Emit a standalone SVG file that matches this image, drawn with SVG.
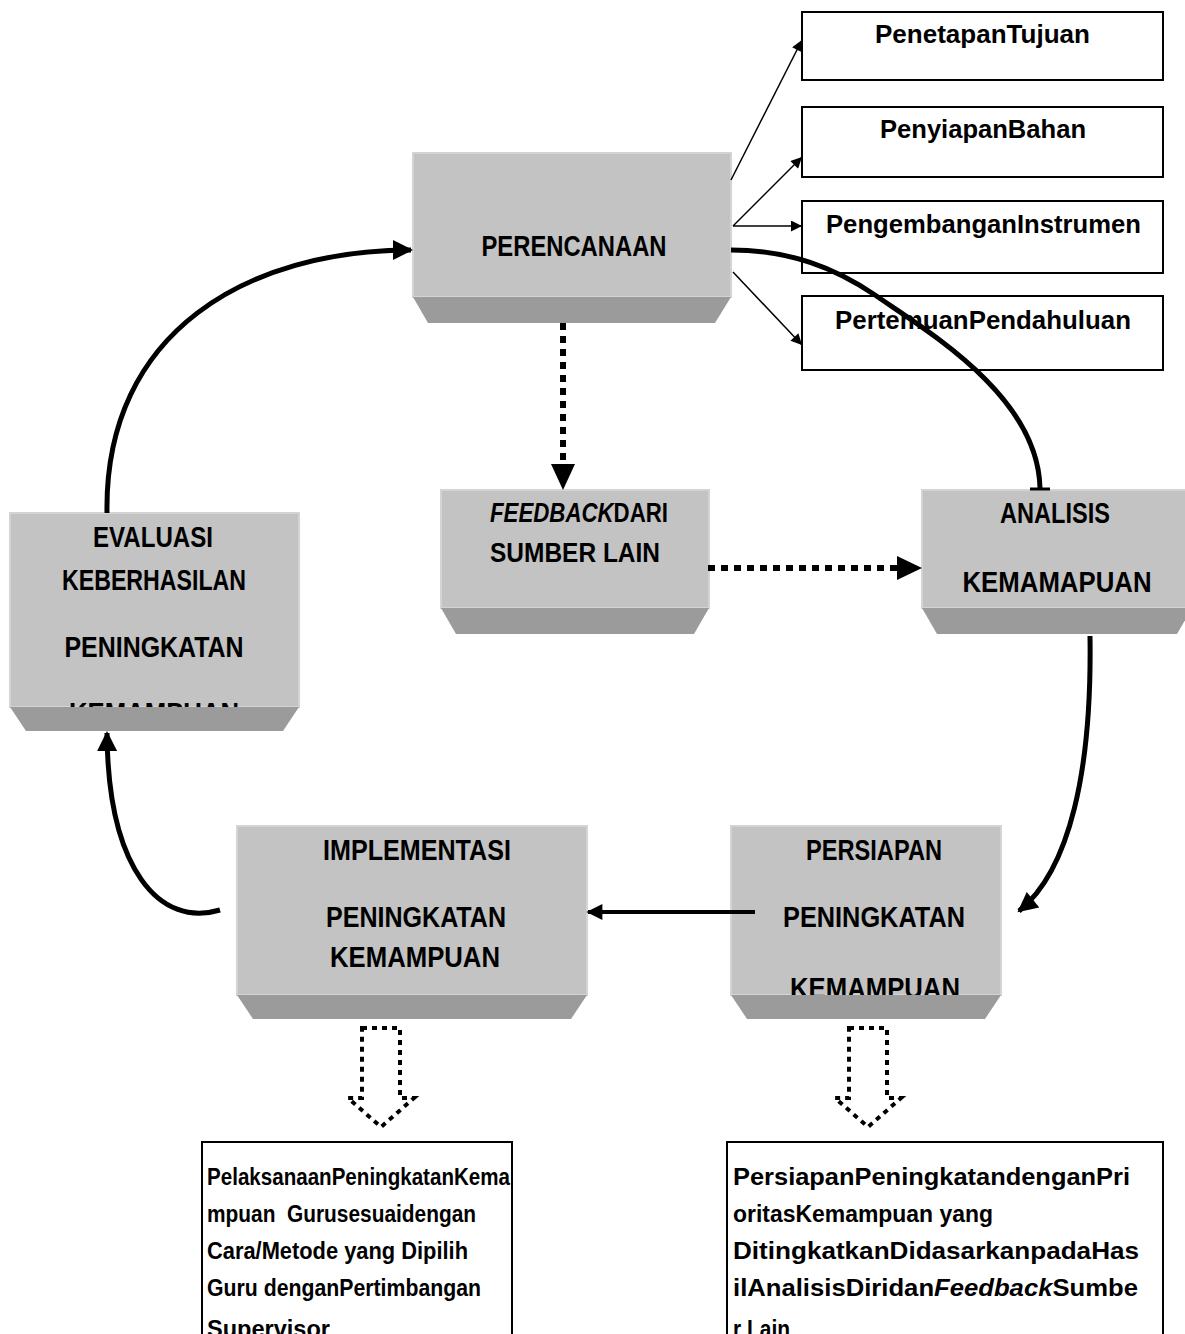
<svg xmlns="http://www.w3.org/2000/svg" width="1185" height="1334" viewBox="0 0 1185 1334">
<style>
.face{fill:#c3c3c3;stroke:#d4d4d4;stroke-width:2}
.bevel{fill:#9b9b9b}
.cap{font-family:"Liberation Sans Narrow","Liberation Sans",Arial,sans-serif;font-weight:bold;font-size:29px;fill:#000;text-anchor:middle}
.cal{font-family:"Liberation Sans",Arial,sans-serif;font-weight:bold;font-size:27px;fill:#000}
.sm{font-family:"Liberation Sans Narrow","Liberation Sans",Arial,sans-serif;font-weight:bold;font-size:26px;fill:#000}
.body{font-family:"Liberation Sans",Arial,sans-serif;font-weight:bold;font-size:23px;fill:#000}
.wbox{fill:#fff;stroke:#000;stroke-width:2}
.thin{fill:none;stroke:#000;stroke-width:1.5}
.thick{fill:none;stroke:#000;stroke-width:5}
.dot{fill:none;stroke:#000;stroke-width:6;stroke-dasharray:7 6}
.hollow{fill:none;stroke:#000;stroke-width:4;stroke-dasharray:5 5}
</style>
<defs>
<marker id="as" viewBox="0 0 10 10" refX="10" refY="5" markerWidth="12" markerHeight="11" markerUnits="userSpaceOnUse" orient="auto"><path d="M0,0 L10,5 L0,10 Z" fill="#000"/></marker>
<marker id="al" viewBox="0 0 10 10" refX="9" refY="5" markerWidth="4.6" markerHeight="4" orient="auto"><path d="M0,0 L10,5 L0,10 Z" fill="#000"/></marker>
</defs>

<g id="n-perencanaan">
<rect class="face" x="413" y="153" width="318" height="144"/>
<text class="cap" x="574" y="256" textLength="185" lengthAdjust="spacingAndGlyphs">PERENCANAAN</text>
<polygon class="bevel" points="413,297 731,297 715,323 428,323"/>
</g>

<g id="n-tujuan"><rect class="wbox" x="802" y="12" width="361" height="68"/><text class="sm" x="875" y="43" textLength="215" lengthAdjust="spacingAndGlyphs">PenetapanTujuan</text></g>
<g id="n-bahan"><rect class="wbox" x="802" y="107" width="361" height="70"/><text class="sm" x="880" y="138" textLength="206" lengthAdjust="spacingAndGlyphs">PenyiapanBahan</text></g>
<g id="n-instrumen"><rect class="wbox" x="802" y="201" width="361" height="72"/><text class="sm" x="826" y="233" textLength="315" lengthAdjust="spacingAndGlyphs">PengembanganInstrumen</text></g>
<g id="n-pendahuluan"><rect class="wbox" x="802" y="296" width="361" height="74"/><text class="sm" x="835" y="329" textLength="296" lengthAdjust="spacingAndGlyphs">PertemuanPendahuluan</text></g>

<g id="n-feedback">
<rect class="face" x="441" y="490" width="268" height="118"/>
<text class="cal" x="490" y="522" textLength="178" lengthAdjust="spacingAndGlyphs"><tspan font-style="italic">FEEDBACK</tspan>DARI</text>
<text class="cal" x="490" y="562" textLength="170" lengthAdjust="spacingAndGlyphs">SUMBER LAIN</text>
<polygon class="bevel" points="441,608 709,608 694,634 456,634"/>
</g>

<g id="n-analisis">
<rect class="face" x="922" y="490" width="270" height="118"/>
<text class="cap" x="1055" y="523" textLength="110" lengthAdjust="spacingAndGlyphs">ANALISIS</text>
<text class="cap" x="1057" y="592" textLength="189" lengthAdjust="spacingAndGlyphs">KEMAMAPUAN</text>
<polygon class="bevel" points="922,608 1192,608 1177,634 937,634"/>
</g>

<g id="n-evaluasi">
<rect class="face" x="10" y="513" width="289" height="194"/>
<text class="cap" x="153" y="547" textLength="120" lengthAdjust="spacingAndGlyphs">EVALUASI</text>
<text class="cap" x="154" y="590" textLength="184" lengthAdjust="spacingAndGlyphs">KEBERHASILAN</text>
<text class="cap" x="154" y="657" textLength="179" lengthAdjust="spacingAndGlyphs">PENINGKATAN</text>
<text class="cap" x="154" y="723" textLength="170" lengthAdjust="spacingAndGlyphs">KEMAMPUAN</text>
<polygon class="bevel" points="10,707 299,707 283,731 26,731"/>
</g>

<g id="n-implementasi">
<rect class="face" x="237" y="826" width="350" height="169"/>
<text class="cap" x="417" y="860" textLength="188" lengthAdjust="spacingAndGlyphs">IMPLEMENTASI</text>
<text class="cap" x="416" y="927" textLength="180" lengthAdjust="spacingAndGlyphs">PENINGKATAN</text>
<text class="cap" x="415" y="967" textLength="170" lengthAdjust="spacingAndGlyphs">KEMAMPUAN</text>
<polygon class="bevel" points="237,995 587,995 571,1019 253,1019"/>
</g>

<g id="n-persiapan">
<rect class="face" x="731" y="826" width="270" height="169"/>
<text class="cap" x="874" y="860" textLength="136" lengthAdjust="spacingAndGlyphs">PERSIAPAN</text>
<text class="cap" x="874" y="927" textLength="182" lengthAdjust="spacingAndGlyphs">PENINGKATAN</text>
<text class="cap" x="875" y="998" textLength="170" lengthAdjust="spacingAndGlyphs">KEMAMPUAN</text>
<polygon class="bevel" points="731,995 1001,995 985,1019 747,1019"/>
</g>

<g id="n-pelaksanaan">
<rect class="wbox" x="202" y="1142" width="310" height="210"/>
<text class="body" x="207" y="1185" textLength="303" lengthAdjust="spacingAndGlyphs">PelaksanaanPeningkatanKema</text>
<text class="body" x="207" y="1222" textLength="269" lengthAdjust="spacingAndGlyphs" xml:space="preserve">mpuan  Gurusesuaidengan</text>
<text class="body" x="207" y="1259" textLength="261" lengthAdjust="spacingAndGlyphs">Cara/Metode yang Dipilih</text>
<text class="body" x="207" y="1296" textLength="274" lengthAdjust="spacingAndGlyphs">Guru denganPertimbangan</text>
<text class="body" x="207" y="1337" textLength="123" lengthAdjust="spacingAndGlyphs">Supervisor</text>
</g>

<g id="n-prioritas">
<rect class="wbox" x="727" y="1142" width="436" height="210"/>
<text class="body" x="733" y="1185" textLength="397" lengthAdjust="spacingAndGlyphs">PersiapanPeningkatandenganPri</text>
<text class="body" x="733" y="1222" textLength="260" lengthAdjust="spacingAndGlyphs">oritasKemampuan yang</text>
<text class="body" x="733" y="1259" textLength="406" lengthAdjust="spacingAndGlyphs">DitingkatkanDidasarkanpadaHas</text>
<text class="body" x="733" y="1296" textLength="405" lengthAdjust="spacingAndGlyphs">ilAnalisisDiridan<tspan font-style="italic">Feedback</tspan>Sumbe</text>
<text class="body" x="733" y="1337" textLength="57" lengthAdjust="spacingAndGlyphs">r Lain</text>
</g>

<g id="connectors">
<path class="thin" d="M731,180 L802,40" marker-end="url(#as)"/>
<path class="thin" d="M733,226 L802,157" marker-end="url(#as)"/>
<path class="thin" d="M733,226 L802,226" marker-end="url(#as)"/>
<path class="thin" d="M733,272 L802,345" marker-end="url(#as)"/>
<path class="thick" d="M731,250 C790,250 835,268 875,295 C925,330 1038,395 1040,488"/>
<path d="M1030,489 H1050" stroke="#000" stroke-width="3"/>
<path class="thick" d="M1090,636 C1092,770 1070,870 1019,911" marker-end="url(#al)"/>
<path d="M755,912 H588" stroke="#000" stroke-width="4" fill="none" marker-end="url(#al)"/>
<path class="thick" d="M220,910 C160,928 108,870 107,733" marker-end="url(#al)"/>
<path class="thick" d="M107,513 C104,330 250,250 411,250" marker-end="url(#al)"/>
<path class="dot" d="M563,323 V465"/>
<path d="M551,464 L575,464 L563,490 Z" fill="#000"/>
<path class="dot" d="M708,568 H898"/>
<path d="M897,556 L922,568 L897,580 Z" fill="#000"/>
<path class="hollow" d="M362,1028 H400 V1098 L414,1098 L381,1127 L348,1098 L362,1098 Z"/>
<path class="hollow" d="M849,1028 H887 V1098 L901,1098 L868,1127 L835,1098 L849,1098 Z"/>
</g>
</svg>
